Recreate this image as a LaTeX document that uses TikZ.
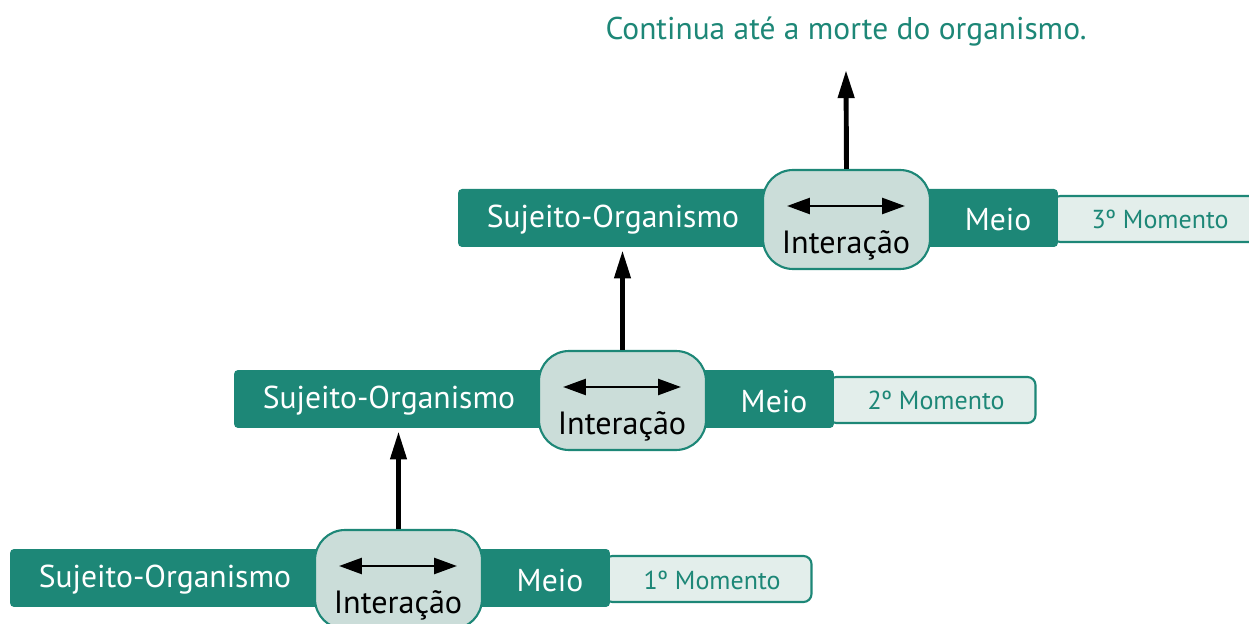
\documentclass[tikz,border=0pt]{standalone}
\usepackage{fontspec}
\setmainfont{PT Sans}
\usetikzlibrary{arrows.meta}
\definecolor{tealA}{HTML}{1D8777}
\definecolor{boxfill}{HTML}{CBDDD9}
\definecolor{momfill}{HTML}{E3EEEB}
\tikzset{
  barbox/.style={fill=tealA, rounded corners=0.08cm, minimum width=12cm, minimum height=1.16cm, inner sep=0pt},
  intbox/.style={draw=tealA, line width=1.2pt, fill=boxfill, rounded corners=0.6cm, minimum width=3.34cm, minimum height=1.98cm, inner sep=0pt},
  mombox/.style={draw=tealA, line width=1.2pt, fill=momfill, rounded corners=0.16cm, minimum width=4.14cm, minimum height=0.92cm, inner sep=0pt},
  wlabel/.style={text=white, font=\fontsize{18}{21}\selectfont, inner sep=0pt},
  blabel/.style={text=black, font=\fontsize{18.3}{21}\selectfont, inner sep=0pt},
  momlabel/.style={text=tealA, font=\fontsize{14.8}{17}\selectfont, inner sep=0pt},
  uparrow/.style={line width=2.8pt, -{Triangle[width=9pt,length=16pt]}},
  lrarrow/.style={line width=1.6pt, {Triangle[width=9pt,length=13pt]}-{Triangle[width=9pt,length=13pt]}},
}
\begin{document}
\begin{tikzpicture}[x=0.02cm,y=-0.02cm]
\useasboundingbox (0,0) rectangle (1249,624);
\clip (0,0) rectangle (1249,624);
\foreach \i/\dx/\dy in {1/0/0,2/224/-179,3/448/-360}{
  \node[mombox] (mom\i) at (\dx+708,\dy+579) {};
  \node[barbox] (bar\i) at (\dx+310,\dy+578) {};
  \node[intbox] (int\i) at (\dx+398.5,\dy+579.5) {};
  \node[wlabel] (suj\i) at (\dx+165,\dy+580) {Sujeito-Organismo};
  \node[wlabel] (meio\i) at (\dx+550,\dy+580) {Meio};
  \node[blabel] (inter\i) at (\dx+398,\dy+605) {Interação};
  \coordinate (al\i) at (\dx+339,\dy+566);
  \coordinate (ar\i) at (\dx+457,\dy+566);
  \draw[lrarrow] (al\i) -- (ar\i);
}
\node[momlabel] (m1t) at (712,580) {1º Momento};
\node[momlabel] (m2t) at (936,400) {2º Momento};
\node[momlabel] (m3t) at (1160,219) {3º Momento};
\node[text=tealA, font=\fontsize{17.9}{21}\selectfont, inner sep=0pt] (title) at (846,32) {Continua até a morte do organismo.};
\coordinate (top) at (846,70);
\draw[uparrow, shorten >=0.06cm] (int1.north) -- (int1.north |- bar2.south);
\draw[uparrow, shorten >=0.06cm] (int2.north) -- (int2.north |- bar3.south);
\draw[uparrow] (int3.north) -- (top);
\end{tikzpicture}
\end{document}
